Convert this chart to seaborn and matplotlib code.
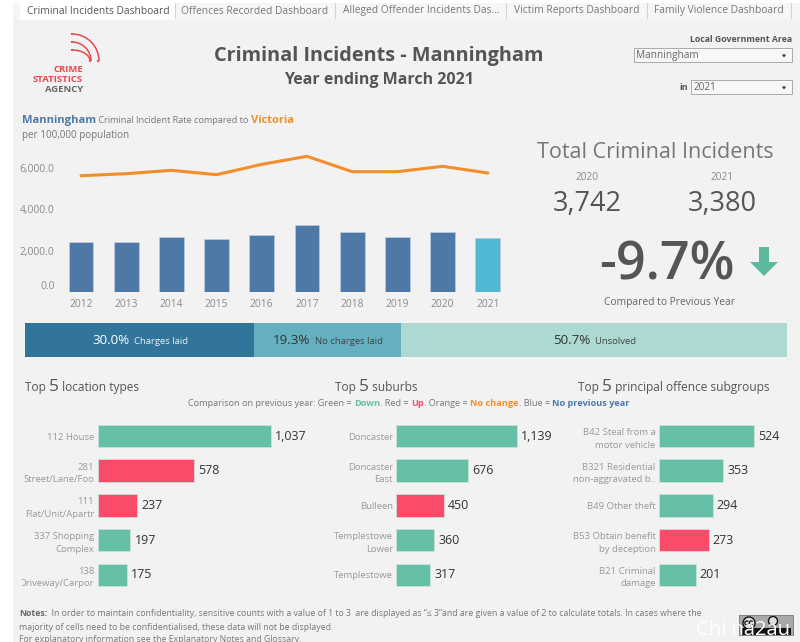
import matplotlib
matplotlib.use('Agg')
import matplotlib.pyplot as plt
from matplotlib.patches import Rectangle, Arc, Polygon, Circle
from matplotlib.transforms import Bbox
import seaborn as sns

# values
years = ['2012', '2013', '2014', '2015', '2016', '2017', '2018', '2019', '2020', '2021']
manningham_rate = [2400, 2400, 2657, 2575, 2738, 3220, 2882, 2650, 2885, 2623]
victoria_rate = [5618, 5715, 5878, 5667, 6167, 6555, 5812, 5812, 6072, 5749]
outcome_names = ['Charges laid', 'No charges laid', 'Unsolved']
outcome_share = [30.0, 19.3, 50.7]

location_labels = ['112 House', '281\nStreet/Lane/Foo', '111\nFlat/Unit/Apartr', '337 Shopping\nComplex', '138\nDriveway/Carpor']
location_counts = [1037, 578, 237, 197, 175]
location_change = ['Down', 'Up', 'Up', 'Down', 'Down']

suburb_labels = ['Doncaster', 'Doncaster\nEast', 'Bulleen', 'Templestowe\nLower', 'Templestowe']
suburb_counts = [1139, 676, 450, 360, 317]
suburb_change = ['Down', 'Down', 'Up', 'Down', 'Down']

offence_labels = ['B42 Steal from a\nmotor vehicle', 'B321 Residential\nnon-aggravated b..', 'B49 Other theft', 'B53 Obtain benefit\nby deception', 'B21 Criminal\ndamage']
offence_counts = [524, 353, 294, 273, 201]
offence_change = ['Down', 'Down', 'Down', 'Up', 'Down']

BLUE = '#4E79A7'
CYAN = '#4FB8D3'
ORANGE = '#F28E2B'
GREEN = '#66BFA7'
RED = '#FA4B69'
BG = '#F2F2F2'
GREY = '#8A8A8A'
DARK = '#555555'
change_colors = {'Down': GREEN, 'Up': RED}

W, H = 800, 642
sns.set_theme(style='white')
plt.rcParams['font.family'] = ['Open Sans', 'DejaVu Sans']
fig = plt.figure(figsize=(W / 100, H / 100), dpi=100, facecolor='white')


def px_axes(x0, y0, x1, y1, z=2):
    # axes placed by pixel box, y counted from the top of the image
    ax = fig.add_axes([x0 / W, 1 - y1 / H, (x1 - x0) / W, (y1 - y0) / H], zorder=z)
    ax.patch.set_visible(False)
    return ax


bg = px_axes(0, 0, W, H, z=0)
bg.set_xlim(0, W)
bg.set_ylim(H, 0)
bg.axis('off')
ov = px_axes(0, 0, W, H, z=5)
ov.set_xlim(0, W)
ov.set_ylim(H, 0)
ov.axis('off')

# panel and tab strip
bg.add_patch(Rectangle((13, 19), W - 13, H - 19, color=BG, lw=0))
bg.add_patch(Rectangle((13, 3), W - 13, 16, color='#F6F6F6', lw=0))
bg.add_patch(Rectangle((20, 2), 155, 18, color='white', lw=0))
for sep in [175, 335, 506, 647, 791]:
    bg.plot([sep, sep], [3, 18], color='#D4D4D4', lw=0.8)
tabs = [('Criminal Incidents Dashboard', 98, '#555555'), ('Offences Recorded Dashboard', 255, '#777777'),
        ('Alleged Offender Incidents Das...', 421, '#777777'), ('Victim Reports Dashboard', 577, '#777777'),
        ('Family Violence Dashboard', 719, '#777777')]
for name, cx, col in tabs:
    ov.text(cx, 11, name, ha='center', va='center', fontsize=7.4, color=col)


def runs(x, y, parts, center=False):
    # consecutive text pieces on one baseline: (text, size, colour, weight)
    r = fig.canvas.get_renderer()
    items = []
    for s, size, col, weight in parts:
        items.append(ov.text(0, y, s, fontsize=size, color=col, fontweight=weight, va='baseline', ha='left'))
    widths = []
    for t in items:
        t.set_text(t.get_text().replace(' ', '\u00a0'))
        widths.append(t.get_window_extent(r).width)
    if center:
        x -= sum(widths) / 2
    for t, w in zip(items, widths):
        t.set_x(x)
        x += w


# logo
LOGO = '#E8474E'
for r, lw in [(27, 1.1), (19, 1.1)]:
    ov.add_patch(Arc((72, 61), 2 * r, 2 * r, theta1=270, theta2=360, color=LOGO, lw=lw))
ov.add_patch(Arc((72, 61), 36, 22, theta1=270, theta2=360, color=LOGO, lw=1.1))
for dot in [(72, 34), (98, 61), (72, 42), (72, 50), (90, 61)]:
    ov.add_patch(Circle(dot, 1.1, color=LOGO, lw=0))
ov.text(83, 69, 'CRIME', ha='right', va='center', fontsize=6.8, fontweight='bold', color=LOGO)
ov.text(83, 79, 'STATISTICS', ha='right', va='center', fontsize=6.8, fontweight='bold', color=LOGO)
ov.text(83, 89, 'AGENCY', ha='right', va='center', fontsize=6.8, fontweight='bold', color='#666666')

# headings
ov.text(379, 56, 'Criminal Incidents - Manningham', ha='center', va='center', fontsize=14.3, fontweight='bold', color=DARK)
ov.text(379, 80, 'Year ending March 2021', ha='center', va='center', fontsize=11.5, fontweight='bold', color=DARK)

# filters
ov.text(792, 40, 'Local Government Area', ha='right', va='center', fontsize=6.3, fontweight='bold', color='#555555')
ov.add_patch(Rectangle((634, 48), 158, 14, fc='#F7F7F7', ec='#AAAAAA', lw=0.7))
ov.text(636, 55.5, 'Manningham', va='center', fontsize=7.2, color='#666666')
ov.text(688, 88, 'in', ha='right', va='center', fontsize=6.5, fontweight='bold', color='#555555')
ov.add_patch(Rectangle((691, 80), 101, 14, fc='#F7F7F7', ec='#AAAAAA', lw=0.7))
ov.text(694, 88, '2021', va='center', fontsize=7.2, color='#666666')
for tip_y, mid in [(57.5, 784), (89.5, 784)]:
    ov.add_patch(Polygon([(mid - 2.2, tip_y - 3), (mid + 2.2, tip_y - 3), (mid, tip_y)], color='#333333', lw=0))

# rate chart title
runs(22, 123, [('Manningham', 8, BLUE, 'bold'), (' Criminal Incident Rate compared to ', 6.6, '#777777', 'normal'), ('Victoria', 8, ORANGE, 'bold')])
ov.text(22, 135.5, 'per 100,000 population', va='center', fontsize=7.1, color='#777777')

# rate chart: 45.2 px per year, 20.7 px per 1000
rate_ax = px_axes(58, 150, 510, 292)
bar_colors = [BLUE] * 9 + [CYAN]
sns.barplot(x=years, y=manningham_rate, hue=years, palette=bar_colors, legend=False, width=0.55,
            edgecolor='#B8C9DC', linewidth=0.6, saturation=1, ax=rate_ax)
sns.lineplot(x=years, y=victoria_rate, color=ORANGE, lw=2.2, ax=rate_ax, errorbar=None)
rate_ax.set_xlim(-23 / 45.2, 429 / 45.2)
rate_ax.set_ylim(0, 142 / 20.7 * 1000)
rate_ax.set_yticks([0, 2000, 4000, 6000])
rate_ax.set_yticklabels(['0.0', '2,000.0', '4,000.0', '6,000.0'])
rate_ax.tick_params(axis='both', length=0, labelsize=7.4, labelcolor=GREY)
rate_ax.tick_params(axis='y', pad=2.5)
rate_ax.tick_params(axis='x', pad=5)
rate_ax.get_yticklabels()[0].set_verticalalignment('bottom')
rate_ax.set_xlabel('')
rate_ax.set_ylabel('')
sns.despine(ax=rate_ax, left=True, bottom=True)

# totals
ov.text(655, 152, 'Total Criminal Incidents', ha='center', va='center', fontsize=15.5, color='#777777')
ov.text(587, 178, '2020', ha='center', va='center', fontsize=7.3, color=GREY)
ov.text(722, 178, '2021', ha='center', va='center', fontsize=7.3, color=GREY)
ov.text(587, 204, '3,742', ha='center', va='center', fontsize=19.5, color=DARK)
ov.text(722, 204, '3,380', ha='center', va='center', fontsize=19.5, color=DARK)
ov.text(667, 266, '-9.7%', ha='center', va='center', fontsize=37.5, fontweight='semibold', color=DARK)
ov.add_patch(Polygon([(759, 247), (769, 247), (769, 262), (778, 262), (764, 276), (750, 262), (759, 262)], color='#5DB89D', lw=0))
ov.text(669, 303, 'Compared to Previous Year', ha='center', va='center', fontsize=7.4, color='#666666')

# outcome strip
strip_ax = px_axes(25, 323, 787, 357)
strip_colors = ['#31759B', '#65B0C0', '#ACDAD2']
left = 0
for share, col in zip(outcome_share, strip_colors):
    strip_ax.barh(0, share, left=left, height=1, color=col, lw=0)
    left += share
strip_ax.set_xlim(0, 100)
strip_ax.set_ylim(-0.5, 0.5)
strip_ax.axis('off')
strip_text = [(92, 'white', '#E8F0F4'), (273, '#333333', '#444444'), (553, '#333333', '#444444')]
for (x, c1, c2), share, name in zip(strip_text, outcome_share, outcome_names):
    runs(x, 344, [(f'{share:.1f}%', 9.6, c1, 'normal'), ('  ' + name, 6.8, c2, 'normal')])

# Top 5 headings
for x, rest in [(25, ' location types'), (335, ' suburbs'), (578, ' principal offence subgroups')]:
    runs(x, 391, [('Top ', 8.6, '#555555', 'normal'), ('5', 12.5, '#555555', 'normal'), (rest, 8.6, '#555555', 'normal')])
runs(409, 406, [('Comparison on previous year: Green = ', 6.6, '#777777', 'normal'), ('Down', 6.6, GREEN, 'bold'), ('. Red = ', 6.6, '#777777', 'normal'),
                ('Up', 6.6, RED, 'bold'), ('. Orange = ', 6.6, '#777777', 'normal'), ('No change', 6.6, ORANGE, 'bold'),
                ('. Blue = ', 6.6, '#777777', 'normal'), ('No previous year', 6.6, BLUE, 'bold')], center=True)


def top_five(x0, scale, labels, counts, change, clip_left):
    # scale is pixels per incident, rows are 34.7 px apart
    ax = px_axes(x0, 418.7, x0 + 1.25 * scale * max(counts), 592.2)
    sns.barplot(x=counts, y=labels, hue=change, palette=change_colors, dodge=False, legend=False, width=0.65,
                edgecolor='#CFE6DF', linewidth=0.5, saturation=1, orient='h', ax=ax)
    for cont in ax.containers:
        ax.bar_label(cont, fmt='{:,.0f}', padding=3, fontsize=8.9, color='#333333')
    ax.set_xlim(0, 1.25 * max(counts))
    ax.set_ylim(4.5, -0.5)
    ax.set_xticks([])
    ax.set_xlabel('')
    ax.set_ylabel('')
    ax.tick_params(axis='y', length=0, labelsize=6.8, labelcolor='#999999', pad=2.5)
    sns.despine(ax=ax, left=True, bottom=True)
    clip = Bbox([[clip_left, 0], [x0, H]])
    for lab in ax.get_yticklabels():
        lab.set_linespacing(1.5)
        lab.set_clip_box(clip)
        lab.set_clip_on(True)
    return ax


top_five(97.5, 0.167, location_labels, location_counts, location_change, 22)
top_five(396.3, 0.106, suburb_labels, suburb_counts, suburb_change, 320)
top_five(659, 0.182, offence_labels, offence_counts, offence_change, 560)

# notes
NOTE = '#777777'
runs(19, 616, [('Notes:', 6.35, '#666666', 'bold'), ('  In order to maintain confidentiality, sensitive counts with a value of 1 to 3  are displayed as \u201c\u2264 3\u201dand are given a value of 2 to calculate totals. In cases where the', 6.35, NOTE, 'normal')])
ov.text(19, 630, 'majority of cells need to be confidentialised, these data will not be displayed.', fontsize=6.35, color=NOTE, va='baseline')
ov.text(19, 642, 'For explanatory information see the Explanatory Notes and Glossary.', fontsize=6.35, color=NOTE, va='baseline')

# licence badge and the picture's watermark
ov.add_patch(Rectangle((739, 615), 54, 20, fc='#A8A8A8', ec='#777777', lw=0.6))
ov.add_patch(Rectangle((741, 628), 50, 7, fc='#111111', lw=0))
ov.add_patch(Circle((749, 623), 6, fc='#DDDDDD', ec='#111111', lw=1))
ov.add_patch(Circle((773, 621), 4.5, fc='#DDDDDD', ec='#111111', lw=1))
for cx in (746.8, 751.2):
    ov.add_patch(Arc((cx, 623), 4, 4, theta1=45, theta2=315, color='#111111', lw=0.9))
ov.text(743, 630, 'Chi na2au', ha='center', va='center', fontsize=14.5, color='white')

fig.savefig('out.png', dpi=100, facecolor='white')
